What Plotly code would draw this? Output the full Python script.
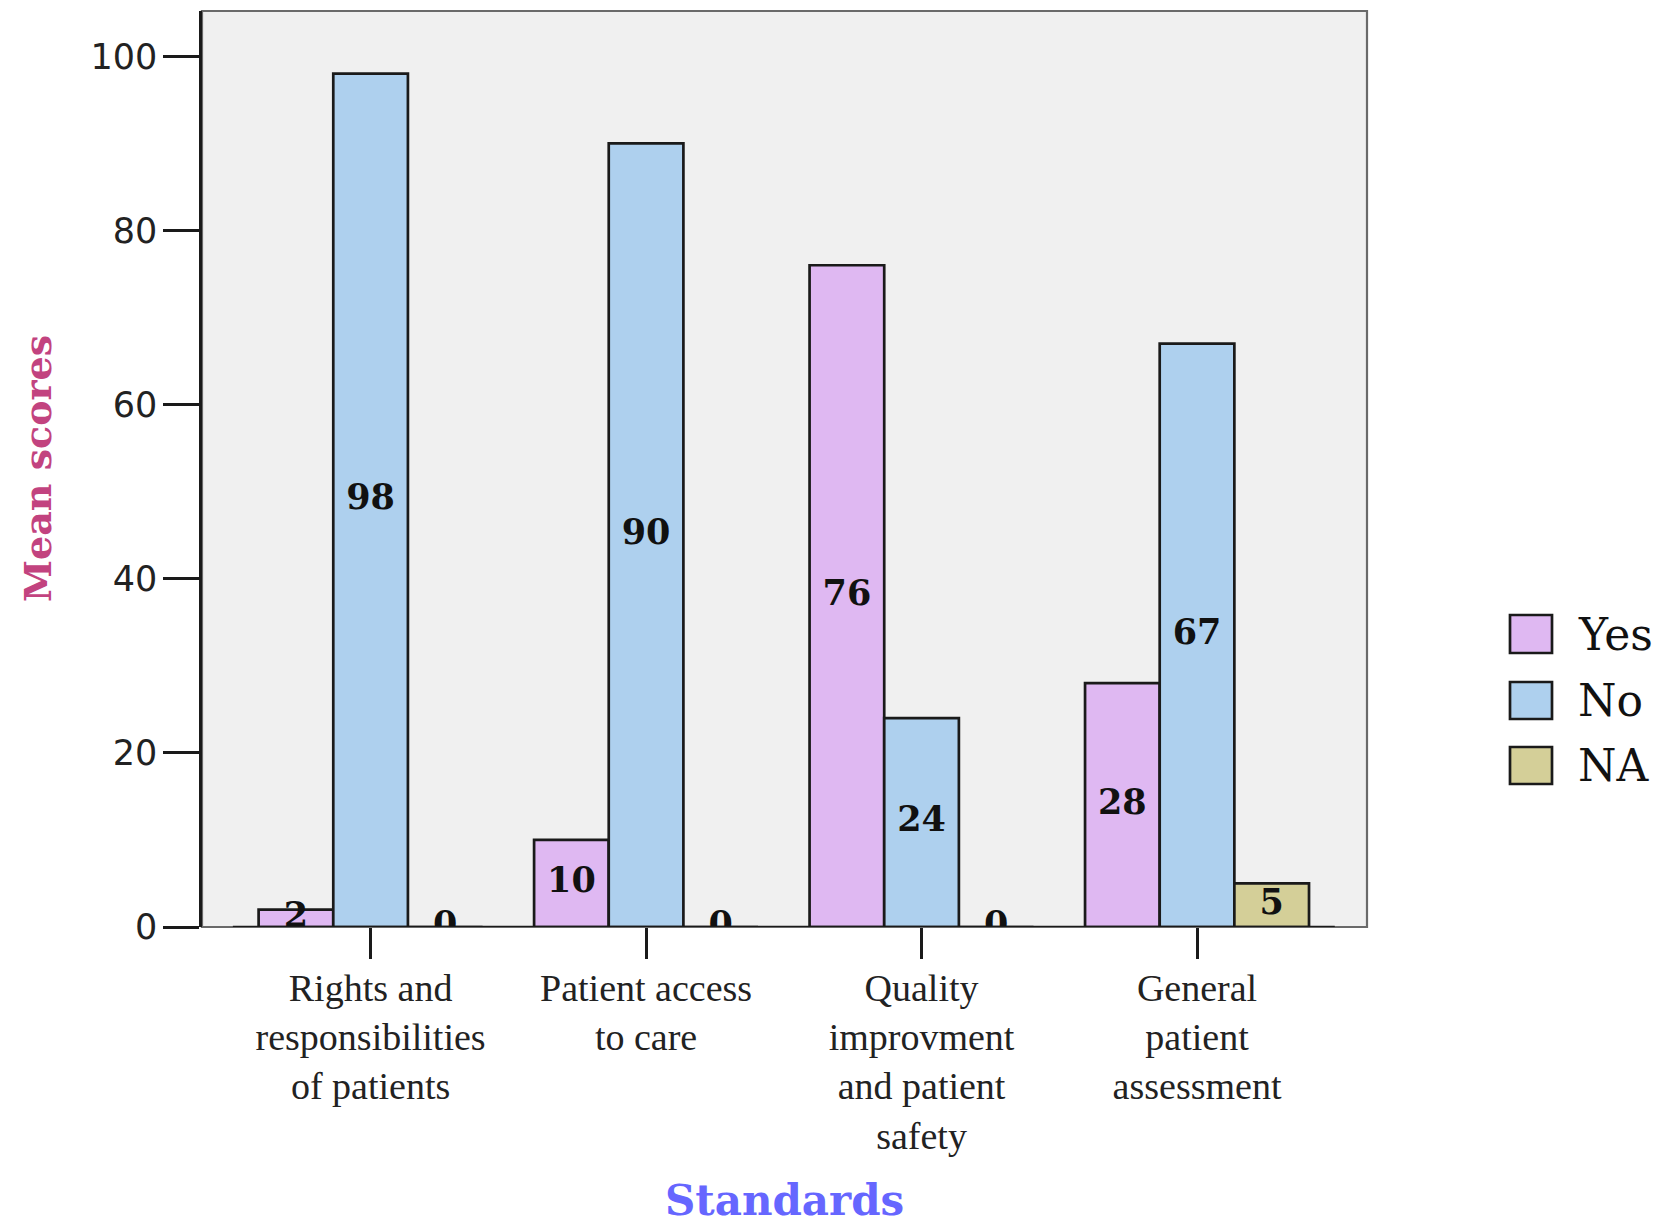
import plotly.graph_objects as go

# Mean scores per standard, split by response
standards = [
    "Rights and<br>responsibilities<br>of patients",
    "Patient access<br>to care",
    "Quality<br>improvment<br>and patient<br>safety",
    "General<br>patient<br>assessment",
]
series_names = ["Yes", "No", "NA"]
yes_scores = [2, 10, 76, 28]
no_scores = [98, 90, 24, 67]
na_scores = [0, 0, 0, 5]
series_colors = ["#DFB8F2", "#AED0EE", "#D4CF98"]

y_ticks = [0, 20, 40, 60, 80, 100]

all_scores = [yes_scores, no_scores, na_scores]

W, H = 1672, 1225
L, R, T, B = 202, 305, 11, 298
plot_w = W - L - R
plot_h = H - T - B

fig = go.Figure()

for name, vals, col in zip(series_names, all_scores, series_colors):
    fig.add_trace(go.Bar(
        name=name, x=standards, y=vals,
        marker=dict(color=col, line=dict(color="#1a1a1a", width=2.7)),
        showlegend=False, hoverinfo="skip",
    ))

# value labels centred in each bar (grouped the same way as the bars)
for name, vals in zip(series_names, all_scores):
    fig.add_trace(go.Scatter(
        x=standards, y=[v / 2 for v in vals],
        text=[str(v) for v in vals],
        mode="text", textposition="middle center",
        textfont=dict(family="DejaVu Serif", size=35, color="#111111", weight="bold"),
        cliponaxis=True, showlegend=False, hoverinfo="skip",
    ))

shapes = [
    # plot frame
    dict(type="rect", xref="x domain", yref="y domain", x0=0, x1=1, y0=0, y1=1,
         line=dict(color="#6a6a6a", width=2.2), layer="below"),
    # zero baseline under the groups
    dict(type="line", xref="x", yref="y", x0=-0.5, x1=3.5, y0=0, y1=0,
         line=dict(color="#1a1a1a", width=2.5), layer="above"),
]

annotations = [
    dict(text="Mean scores", xref="paper", yref="paper",
         x=(37 - L) / plot_w, y=0.5, textangle=-90, showarrow=False,
         xanchor="center", yanchor="middle",
         font=dict(family="DejaVu Serif", size=38, color="#C2437F", weight="bold")),
    dict(text="Standards", xref="paper", yref="paper",
         x=0.5, y=(T + plot_h - 1200) / plot_h, showarrow=False,
         xanchor="center", yanchor="middle",
         font=dict(family="DejaVu Serif", size=42, color="#6666FF", weight="bold")),
]

# legend: swatch boxes and labels
swatch_x0, swatch_x1 = 1510, 1552
swatch_rows = [(615, 653), (682, 719), (747, 784)]
for name, col, (ya, yb) in zip(series_names, series_colors, swatch_rows):
    shapes.append(dict(
        type="rect", xref="paper", yref="paper",
        x0=(swatch_x0 - L) / plot_w, x1=(swatch_x1 - L) / plot_w,
        y0=(T + plot_h - yb) / plot_h, y1=(T + plot_h - ya) / plot_h,
        fillcolor=col, line=dict(color="#1a1a1a", width=2.7), layer="above",
    ))
    annotations.append(dict(
        text=name, xref="paper", yref="paper",
        x=(1576 - L) / plot_w, y=(T + plot_h - (ya + yb) / 2) / plot_h,
        xanchor="left", yanchor="middle", showarrow=False,
        font=dict(family="DejaVu Serif", size=44, color="#111111"),
    ))

fig.update_layout(
    width=W, height=H,
    margin=dict(l=L, r=R, t=T, b=B, pad=0),
    paper_bgcolor="white", plot_bgcolor="#F0F0F0",
    barmode="group", bargap=0.187, bargroupgap=0,
    scattermode="group",
    shapes=shapes, annotations=annotations,
    showlegend=False,
)

fig.update_xaxes(
    range=[-0.612, 3.617], showgrid=False, zeroline=False, showline=False,
    ticks="outside", ticklen=31, tickwidth=2.5, tickcolor="#1a1a1a",
    tickfont=dict(family="Liberation Serif", size=38, color="#222222"),
    ticklabelstandoff=-4,
)
fig.update_yaxes(
    range=[0, 105.2], tickvals=y_ticks, showgrid=False, zeroline=False,
    showline=True, linecolor="#1a1a1a", linewidth=2.5,
    ticks="outside", ticklen=36, tickwidth=2.5, tickcolor="#1a1a1a",
    tickfont=dict(family="DejaVu Sans", size=35, color="#222222"),
    ticklabelstandoff=-1,
)

fig.write_html("out.html")
